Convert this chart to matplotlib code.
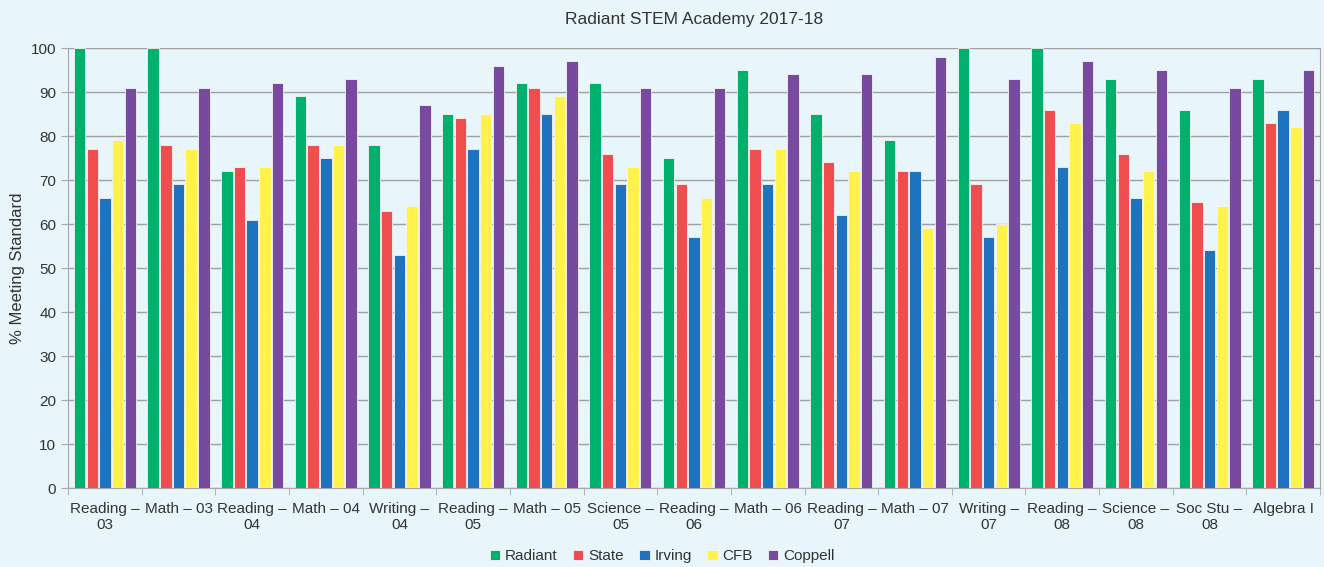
import numpy as np
import matplotlib
matplotlib.use("Agg")
from matplotlib import pyplot

pyplot.rcParams["font.family"] = ["Liberation Sans", "DejaVu Sans"]

subjects = ["Reading \u2013\n03", "Math \u2013 03", "Reading \u2013\n04", "Math \u2013 04",
            "Writing \u2013\n04", "Reading \u2013\n05", "Math \u2013 05", "Science \u2013\n05",
            "Reading \u2013\n06", "Math \u2013 06", "Reading \u2013\n07", "Math \u2013 07",
            "Writing \u2013\n07", "Reading \u2013\n08", "Science \u2013\n08", "Soc Stu \u2013\n08",
            "Algebra I"]

radiant = [100, 100, 72, 89, 78, 85, 92, 92, 75, 95, 85, 79, 100, 100, 93, 86, 93]
state = [77, 78, 73, 78, 63, 84, 91, 76, 69, 77, 74, 72, 69, 86, 76, 65, 83]
irving = [66, 69, 61, 75, 53, 77, 85, 69, 57, 69, 62, 72, 57, 73, 66, 54, 86]
cfb = [79, 77, 73, 78, 64, 85, 89, 73, 66, 77, 72, 59, 60, 83, 72, 64, 82]
coppell = [91, 91, 92, 93, 87, 96, 97, 91, 91, 94, 94, 98, 93, 97, 95, 91, 95]

series = [("Radiant", radiant, "#00B06D"),
          ("State", state, "#F04E4E"),
          ("Irving", irving, "#1F72BD"),
          ("CFB", cfb, "#FFF24A"),
          ("Coppell", coppell, "#774AA0")]

bg = "#E8F5FB"
fig = pyplot.figure(figsize=(13.24, 5.67), dpi=100, facecolor=bg)
ax = fig.add_axes([0.0514, 0.1393, 0.9456, 0.776])
ax.set_facecolor(bg)

x = np.arange(len(subjects))
step = 0.172
for i, (name, vals, color) in enumerate(series):
    ax.bar(x + (i - 2) * step, vals, 0.155, color=color, edgecolor="#F4F4F4",
           linewidth=0.6, label=name, zorder=3)

ax.set_xlim(-0.5, len(subjects) - 0.5)
ax.set_ylim(0, 100)
ax.set_yticks(range(0, 101, 10))
ax.grid(axis="y", color="#A0A0A0", linewidth=1.0, zorder=0)

ax.set_xticks(x)
ax.set_xticklabels(subjects, fontsize=11, color="#333333", linespacing=1.15)
ax.set_xticks(np.arange(-0.5, len(subjects)), minor=True)
ax.tick_params(axis="x", which="major", length=0, pad=10)
ax.tick_params(axis="x", which="minor", length=5, color="#A8A8A8")
ax.tick_params(axis="y", length=5, color="#A8A8A8", labelsize=11, labelcolor="#333333")

ax.spines["top"].set_visible(False)
for side in ["left", "bottom", "right"]:
    ax.spines[side].set_color("#A8A8A8")

ax.set_ylabel("% Meeting Standard", fontsize=12, color="#333333")
ax.set_title("Radiant STEM Academy 2017-18", fontsize=12.5, color="#333333", pad=17)

fig.legend(loc="lower center", bbox_to_anchor=(0.5, -0.018), ncol=5, frameon=False,
           fontsize=11, handlelength=0.7, handleheight=0.7, handletextpad=0.3,
           columnspacing=1.0, labelcolor="#333333")

fig.savefig("out.png", dpi=100, facecolor=bg)
